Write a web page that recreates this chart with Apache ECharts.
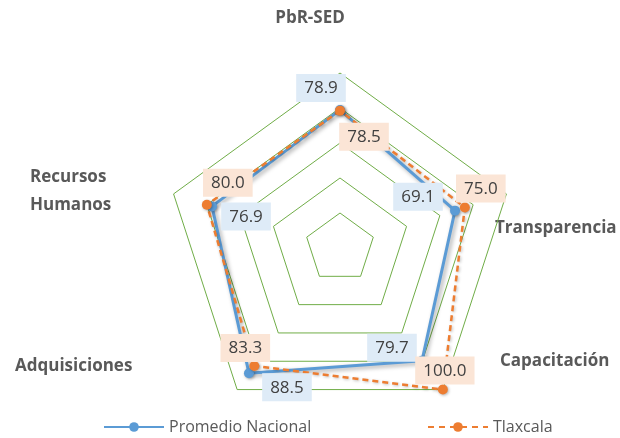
<!DOCTYPE html>
<html><head><meta charset="utf-8">
<script src="https://cdn.jsdelivr.net/npm/echarts@6/dist/echarts.min.js"></script>
<style>html,body{margin:0;padding:0;background:#fff}#c{width:620px;height:438px}</style>
</head><body><div id="c"></div>
<script>
// Indicators in ECharts drawing order (counter-clockwise from top)
const indicators = ['PbR-SED', 'Recursos Humanos', 'Adquisiciones', 'Capacitación', 'Transparencia'];
const seriesNames = ['Promedio Nacional', 'Tlaxcala'];
const nacional = [78.9, 76.9, 88.5, 79.7, 69.1];
const tlaxcala = [78.5, 80.0, 83.3, 100.0, 75.0];
const axisMin = 0;
const axisMax = 100;
const splitCount = 5;

// layout only: data-label offsets [dx, dy] from each point
const labelOffsets = [
  [[-19, -22], [34, 10], [38, 14], [-30, -13], [-37, -14]],
  [[24, 26], [21, -22], [-9, -18], [2, -19], [16, -19]]
];

const labelFont = 'Open Sans';
const allVals = [nacional, tlaxcala];
const labelItems = [];
allVals.forEach(function (vals, s) {
  vals.forEach(function (v, k) {
    labelItems.push({
      name: 'lbl' + s + '_' + k,
      value: vals,
      label: {
        show: true,
        position: 'inside',
        offset: labelOffsets[s][k],
        formatter: function (p) {
          const val = Array.isArray(p.value) ? NaN : Number(p.value);
          if (Math.abs(val - v) < 1e-9) {
            return '{' + (s === 0 ? 'b' : 'o') + '|' + v.toFixed(1) + '}';
          }
          return '';
        },
        rich: {
          b: { backgroundColor: '#DEEBF7', padding: [6, 8, 5, 8], fontSize: 17, color: '#404040', fontFamily: labelFont },
          o: { backgroundColor: '#FBE5D6', padding: [6, 8, 5, 8], fontSize: 17, color: '#404040', fontFamily: labelFont }
        }
      }
    });
  });
});

const nameFont = 'bold 17px "Open Sans"';
const nameColor = '#595959';
const legendText = { fontFamily: 'Open Sans', fontSize: 16, color: '#595959' };

const chart = echarts.init(document.getElementById('c'), null, { renderer: 'canvas' });
chart.setOption({
  backgroundColor: '#ffffff',
  animation: false,
  grid: { left: -20, top: -20, width: 1, height: 1, show: false },
  xAxis: { type: 'category', show: false, data: [] },
  yAxis: { type: 'value', show: false },
  legend: [
    { data: [seriesNames[0]], left: 98, top: 414, itemWidth: 60, itemHeight: 12, textStyle: legendText },
    { data: [seriesNames[1]], left: 422, top: 414, itemWidth: 60, itemHeight: 12, textStyle: legendText }
  ],
  radar: {
    center: [340, 248],
    radius: 175,
    startAngle: 90,
    shape: 'polygon',
    splitNumber: splitCount,
    indicator: indicators.map(function (n) { return { name: n, min: axisMin, max: axisMax }; }),
    axisName: { show: false },
    axisLine: { show: false },
    axisTick: { show: false },
    axisLabel: { show: false },
    splitArea: { show: false },
    splitLine: { lineStyle: { color: '#70AD47', width: 1 } }
  },
  graphic: [
    { type: 'text', x: 310, y: 18, style: { text: indicators[0], font: nameFont, fill: nameColor, align: 'center', verticalAlign: 'middle' } },
    { type: 'text', x: 30, y: 191, style: { text: indicators[1].replace(' ', '\n'), font: nameFont, fill: nameColor, align: 'left', verticalAlign: 'middle', lineHeight: 28 } },
    { type: 'text', x: 15, y: 366, style: { text: indicators[2], font: nameFont, fill: nameColor, align: 'left', verticalAlign: 'middle' } },
    { type: 'text', x: 500, y: 361, style: { text: indicators[3], font: nameFont, fill: nameColor, align: 'left', verticalAlign: 'middle' } },
    { type: 'text', x: 495, y: 228, style: { text: indicators[4], font: nameFont, fill: nameColor, align: 'left', verticalAlign: 'middle' } }
  ],
  series: [
    { type: 'line', name: seriesNames[0], data: [], symbol: 'circle', symbolSize: 10,
      lineStyle: { color: '#5B9BD5', width: 3 }, itemStyle: { color: '#5B9BD5' } },
    { type: 'line', name: seriesNames[1], data: [], symbol: 'circle', symbolSize: 10,
      lineStyle: { color: '#ED7D31', width: 2.5, type: [6, 5] }, itemStyle: { color: '#ED7D31' } },
    {
      type: 'radar', z: 2, silent: true, emphasis: { disabled: true },
      symbol: 'circle', symbolSize: 10,
      data: [
        { name: seriesNames[0], value: nacional,
          lineStyle: { color: '#5B9BD5', width: 3, shadowColor: 'rgba(0,0,0,0.35)', shadowBlur: 4, shadowOffsetX: 2, shadowOffsetY: 2 },
          itemStyle: { color: '#5B9BD5', shadowColor: 'rgba(0,0,0,0.35)', shadowBlur: 3, shadowOffsetX: 1, shadowOffsetY: 1 } },
        { name: seriesNames[1], value: tlaxcala,
          lineStyle: { color: '#ED7D31', width: 2.5, type: [6, 4], shadowColor: 'rgba(0,0,0,0.25)', shadowBlur: 3, shadowOffsetX: 1, shadowOffsetY: 1 },
          itemStyle: { color: '#ED7D31', shadowColor: 'rgba(0,0,0,0.3)', shadowBlur: 3, shadowOffsetX: 1, shadowOffsetY: 1 } }
      ]
    },
    {
      type: 'radar', z: 3, silent: true, emphasis: { disabled: true },
      symbol: 'circle', symbolSize: 1,
      itemStyle: { color: 'rgba(0,0,0,0)' },
      lineStyle: { width: 0, opacity: 0 },
      data: labelItems
    }
  ]
});
</script>
</body></html>
